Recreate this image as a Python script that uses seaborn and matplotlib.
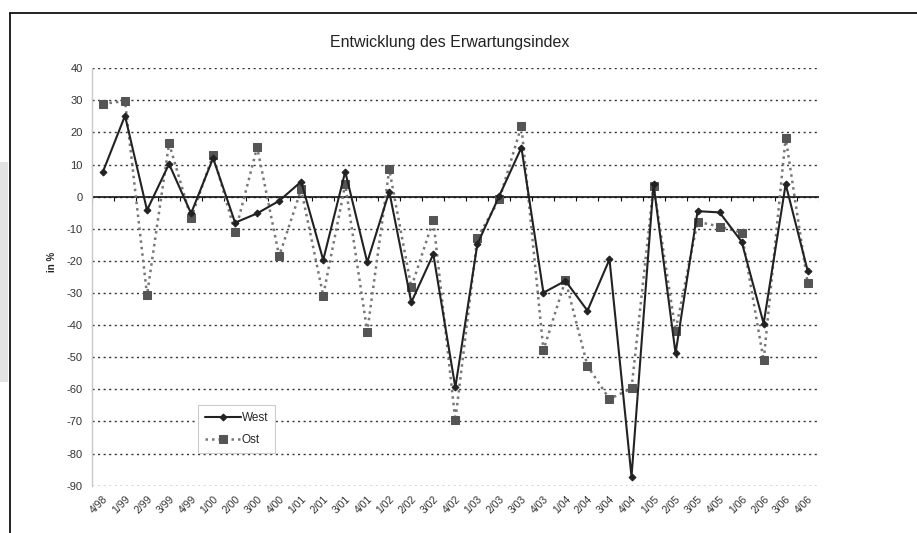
"""Entwicklung des Erwartungsindex - West vs. Ost."""
import matplotlib.pyplot as plt
import numpy as np
import pandas as pd
import seaborn as sns
from matplotlib.lines import Line2D
from matplotlib.patches import Rectangle

# quarter labels and index values (in %)
quartale = ['4/98', '1/99', '2/99', '3/99', '4/99', '1/00', '2/00', '3/00',
            '4/00', '1/01', '2/01', '3/01', '4/01', '1/02', '2/02', '3/02',
            '4/02', '1/03', '2/03', '3/03', '4/03', '1/04', '2/04', '3/04',
            '4/04', '1/05', '2/05', '3/05', '4/05', '1/06', '2/06', '3/06',
            '4/06']
west = [7.8, 25.2, -4.2, 10.2, -5.2, 12, -8.1, -5.2, -1.3, 4.7, -19.7, 7.8,
        -20.4, 1.6, -32.9, -17.9, -59.4, -14.8, 0.3, 15.3, -29.9, -26.2,
        -35.5, -19.5, -87.2, 3.9, -48.8, -4.5, -4.9, -14, -39.5, 3.9, -23.1]
ost = [28.9, 29.8, -30.6, 16.6, -6.7, 13, -11.1, 15.4, -18.5, 2.3, -30.8,
       3.9, -42, 8.5, -28.2, -7.3, -69.6, -12.8, -0.8, 22, -47.8, -26,
       -52.7, -63, -59.7, 3.3, -41.7, -7.8, -9.3, -11.2, -51, 18.4, -27]

df = pd.DataFrame({'Quartal': quartale, 'West': west, 'Ost': ost})

sns.set_style('white')
plt.rcParams['font.family'] = ['Liberation Sans', 'DejaVu Sans']
plt.rcParams['axes.unicode_minus'] = False

fig = plt.figure(figsize=(9.17, 5.33), dpi=100)
ax = fig.add_axes([0.1003, 0.0887, 0.7925, 0.7833])

# gridlines first, so the series sit on top
ax.set_ylim(-90, 40)
ax.set_yticks(range(-90, 41, 10))
ax.yaxis.grid(True, linestyle=(0, (1.5, 2.5)), color='#333333', linewidth=1.0)
ax.set_axisbelow(True)

sns.lineplot(data=df, x='Quartal', y='Ost', sort=False, ax=ax,
             color='#777777', linewidth=1.8, linestyle=(0, (1, 1.6)),
             marker='s', markersize=5.5, markerfacecolor='#555555',
             markeredgecolor='#555555', label='Ost', zorder=3)
sns.lineplot(data=df, x='Quartal', y='West', sort=False, ax=ax,
             color='#222222', linewidth=1.5, marker='D', markersize=3.5,
             markerfacecolor='#222222', markeredgecolor='#222222',
             label='West', zorder=4)

ax.set_xlim(-0.5, len(quartale) - 0.5)

# zero line with small category ticks
ax.axhline(0, color='#111111', linewidth=1.2, zorder=2)
ax.vlines(np.arange(-0.5, len(quartale), 1), -1.2, 0, color='#111111',
          linewidth=0.8, zorder=2)

for side in ['top', 'right', 'bottom']:
    ax.spines[side].set_visible(False)
ax.spines['left'].set_color('#c8c8c8')
ax.spines['left'].set_linewidth(1.0)

ax.tick_params(axis='y', length=0, pad=6.5, labelsize=8, labelcolor='#333333')
ax.tick_params(axis='x', length=0, pad=6, labelsize=7.5, labelcolor='#333333')
plt.setp(ax.get_xticklabels(), rotation=45, ha='right', rotation_mode='anchor')
ax.set(xlabel='', ylabel='')

# legend (West first)
handles, labels = ax.get_legend_handles_labels()
order = [labels.index('West'), labels.index('Ost')]
leg = ax.legend([handles[i] for i in order], [labels[i] for i in order],
                loc='lower left', bbox_to_anchor=(0.146, 0.079),
                borderaxespad=0, frameon=True, fancybox=False,
                edgecolor='#cccccc', facecolor='white', framealpha=1,
                fontsize=8.5, handlelength=3.0, handletextpad=0.1,
                labelspacing=0.8, borderpad=0.6)
leg.get_frame().set_linewidth(0.8)

fig.text(0.490, 0.921, 'Entwicklung des Erwartungsindex', ha='center',
         va='center', fontsize=11.5, color='#222222')
fig.text(0.057, 0.509, 'in %', ha='center', va='center', rotation=90,
         fontsize=7, fontweight='bold', color='#222222')

# page frame and gray margin
fig.add_artist(Rectangle((0, 1 - 382 / 533), 8 / 917, 220 / 533,
                         transform=fig.transFigure, color='#e3e3e3', lw=0))
fig.add_artist(Line2D([9.5 / 917, 1], [1 - 12.5 / 533] * 2,
                      transform=fig.transFigure, color='#111111', lw=1.3))
fig.add_artist(Line2D([9.5 / 917] * 2, [0, 1 - 12.5 / 533],
                      transform=fig.transFigure, color='#111111', lw=1.3))

fig.savefig('out.png', dpi=100)
